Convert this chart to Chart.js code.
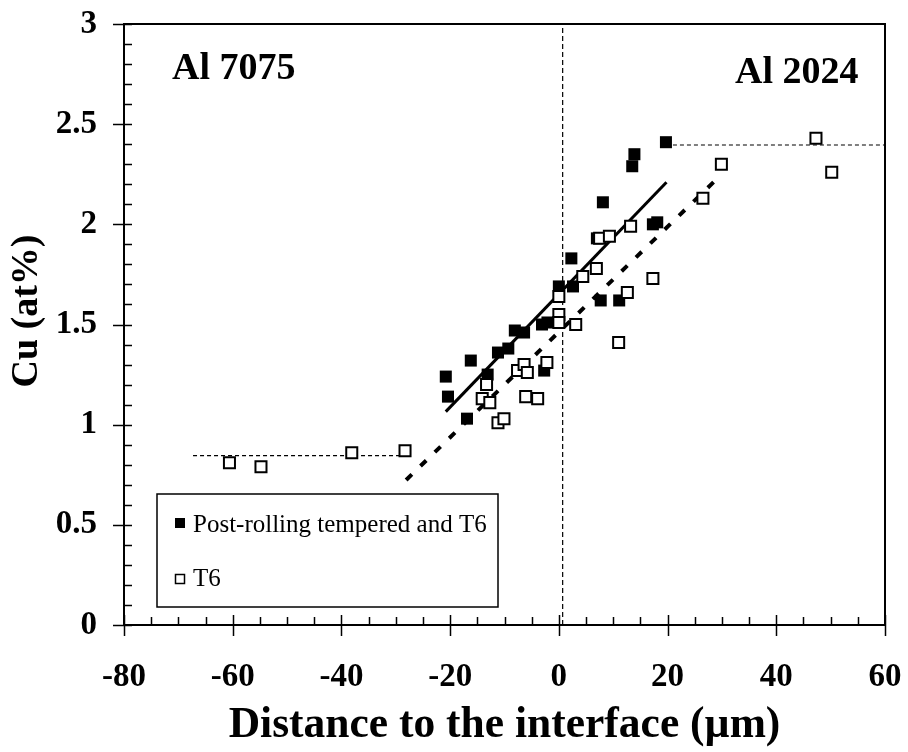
<!DOCTYPE html>
<html>
<head>
<meta charset="utf-8">
<script src="https://cdn.jsdelivr.net/npm/chart.js@4.4.1/dist/chart.umd.min.js"></script>
<style>
  html, body { margin: 0; padding: 0; background: #fff; }
  #wrap { width: 908px; height: 752px; }
</style>
</head>
<body>
<div id="wrap"><canvas id="cuChart" width="908" height="752"></canvas></div>
<script>
const SERIF = '"Liberation Serif", "Times New Roman", serif';

// tick labels
const xTickLabels = ["-80", "-60", "-40", "-20", "0", "20", "40", "60"];
const yTickLabels = ["0", "0.5", "1", "1.5", "2", "2.5", "3"];

// Post-rolling tempered and T6 (filled squares)
const rolledX = [-20.8, -20.4, -16.9, -16.2, -13.1, -11.2, -9.3, -8.1, -6.4, -3.1, -2.1, -2.7,
                 0.0, 2.6, 2.3, 7.0, 7.7, 8.1, 11.1, 13.5, 13.9, 17.3, 18.1, 19.7];
const rolledY = [1.24, 1.14, 1.03, 1.32, 1.25, 1.36, 1.38, 1.47, 1.46, 1.50, 1.51, 1.27,
                 1.69, 1.69, 1.83, 1.93, 1.62, 2.11, 1.62, 2.29, 2.35, 2.00, 2.01, 2.41];

// T6 (open squares)
const t6X = [-60.6, -54.8, -38.1, -28.3, -13.3, -14.1, -12.7, -11.2, -10.1, -7.6, -6.4, -5.8,
             -6.1, -3.9, -2.2, 0.0, 0.0, 0.0, 3.1, 4.4, 6.9, 7.5, 9.3, 11.0, 12.6, 13.2,
             17.3, 26.5, 29.9, 47.3, 50.2];
const t6Y = [0.81, 0.79, 0.86, 0.87, 1.20, 1.13, 1.11, 1.01, 1.03, 1.27, 1.30, 1.26,
             1.14, 1.13, 1.31, 1.64, 1.55, 1.51, 1.50, 1.74, 1.78, 1.93, 1.94, 1.41, 1.66, 1.99,
             1.73, 2.13, 2.30, 2.43, 2.26];

// fitted lines and guides
const fitRolledX = [-20.8, 19.8];
const fitRolledY = [1.065, 2.21];
const fitT6X = [-28.1, 28.9];
const fitT6Y = [0.724, 2.222];
const plateauLowX = [-67.3, -28.3];
const plateauLowY = [0.845, 0.845];
const plateauHighX = [19.7, 60];
const plateauHighY = [2.396, 2.396];
const interfaceX = [0.7, 0.7];
const interfaceY = [0, 3];

const pts = (xs, ys) => xs.map((x, i) => ({ x: x, y: ys[i] }));

const guide = (xs, ys, width, dash) => ({
  type: "line",
  data: pts(xs, ys),
  borderColor: "#000",
  borderWidth: width,
  borderDash: dash,
  pointRadius: 0,
  fill: false,
  tension: 0,
});

const extras = {
  id: "extras",
  afterDraw(chart) {
    const { ctx, chartArea: a, scales: { x, y } } = chart;
    ctx.save();
    ctx.strokeStyle = "#000";
    ctx.fillStyle = "#000";

    // frame
    ctx.lineWidth = 2;
    ctx.strokeRect(a.left, a.top, a.right - a.left, a.bottom - a.top);

    // ticks: majors cross the axis, minors point inwards
    ctx.lineWidth = 1.5;
    ctx.beginPath();
    for (let i = 0; i <= 28; i++) {
      const px = Math.round(x.getPixelForValue(-80 + i * 5)) + 0.5;
      const major = i % 4 === 0;
      ctx.moveTo(px, a.bottom - (major ? 10 : 8));
      ctx.lineTo(px, a.bottom + (major ? 11 : 0));
    }
    for (let i = 0; i <= 30; i++) {
      const py = Math.round(y.getPixelForValue(i / 10)) + 0.5;
      const major = i % 5 === 0;
      ctx.moveTo(a.left - (major ? 11 : 0), py);
      ctx.lineTo(a.left + 8, py);
    }
    ctx.stroke();

    // alloy labels
    ctx.font = "bold 38px " + SERIF;
    ctx.textBaseline = "alphabetic";
    ctx.textAlign = "left";
    ctx.fillText("Al 7075", 172, 79);
    ctx.fillText("Al 2024", 735, 83);

    // y title
    ctx.save();
    ctx.translate(27, 311);
    ctx.rotate(-Math.PI / 2);
    ctx.textAlign = "center";
    ctx.textBaseline = "middle";
    ctx.fillText("Cu (at%)", 0, 0);
    ctx.restore();

    // legend
    const ds = chart.data.datasets;
    ctx.fillStyle = "#fff";
    ctx.fillRect(157, 494, 341, 113);
    ctx.lineWidth = 1.5;
    ctx.strokeRect(157, 494, 341, 113);
    ctx.fillStyle = "#000";
    ctx.fillRect(175, 518, 10, 10);
    ctx.strokeRect(175.5, 574.5, 9, 9);
    ctx.font = "25px " + SERIF;
    ctx.fillText(ds[1].label, 193, 532);
    ctx.fillText(ds[0].label, 193, 586);

    ctx.restore();
  },
};

new Chart(document.getElementById("cuChart"), {
  type: "scatter",
  data: {
    datasets: [
      {
        label: "T6",
        data: pts(t6X, t6Y),
        pointStyle: "rect",
        pointRadius: 7.8,
        pointBorderWidth: 2,
        backgroundColor: "#fff",
        borderColor: "#000",
      },
      {
        label: "Post-rolling tempered and T6",
        data: pts(rolledX, rolledY),
        pointStyle: "rect",
        pointRadius: 8.5,
        pointBorderWidth: 0,
        backgroundColor: "#000",
        borderColor: "#000",
      },
      guide(fitRolledX, fitRolledY, 3, []),
      guide(fitT6X, fitT6Y, 4, [8, 12]),
      guide(plateauLowX, plateauLowY, 1.2, [4, 3]),
      guide(plateauHighX, plateauHighY, 1.2, [4, 3]),
      guide(interfaceX, interfaceY, 1.2, [5, 3]),
    ],
  },
  options: {
    responsive: false,
    animation: false,
    events: [],
    layout: { padding: { top: 24, right: 23, left: 0, bottom: 0 } },
    plugins: {
      legend: { display: false },
      tooltip: { enabled: false },
    },
    scales: {
      x: {
        type: "linear",
        min: -80,
        max: 60,
        border: { display: false },
        grid: { display: false, drawTicks: false },
        ticks: {
          stepSize: 20,
          padding: 33,
          color: "#000",
          maxRotation: 0,
          font: { family: SERIF, size: 33, weight: "bold" },
          callback: (v, i) => xTickLabels[i],
        },
        title: {
          display: true,
          text: "Distance to the interface (µm)",
          color: "#000",
          font: { family: SERIF, size: 43.5, weight: "bold" },
          padding: { top: 0, bottom: 0 },
        },
        afterFit: (s) => {
          s.height = 127;
          s.paddingLeft = 0;
          s.paddingRight = 0;
        },
      },
      y: {
        type: "linear",
        min: 0,
        max: 3,
        border: { display: false },
        grid: { display: false, drawTicks: false },
        ticks: {
          stepSize: 0.5,
          padding: 27,
          color: "#000",
          font: { family: SERIF, size: 33, weight: "bold" },
          callback: (v, i) => yTickLabels[i],
        },
        afterFit: (s) => {
          s.width = 124;
          s.paddingTop = 0;
          s.paddingBottom = 0;
        },
      },
    },
  },
  plugins: [extras],
});
</script>
</body>
</html>
